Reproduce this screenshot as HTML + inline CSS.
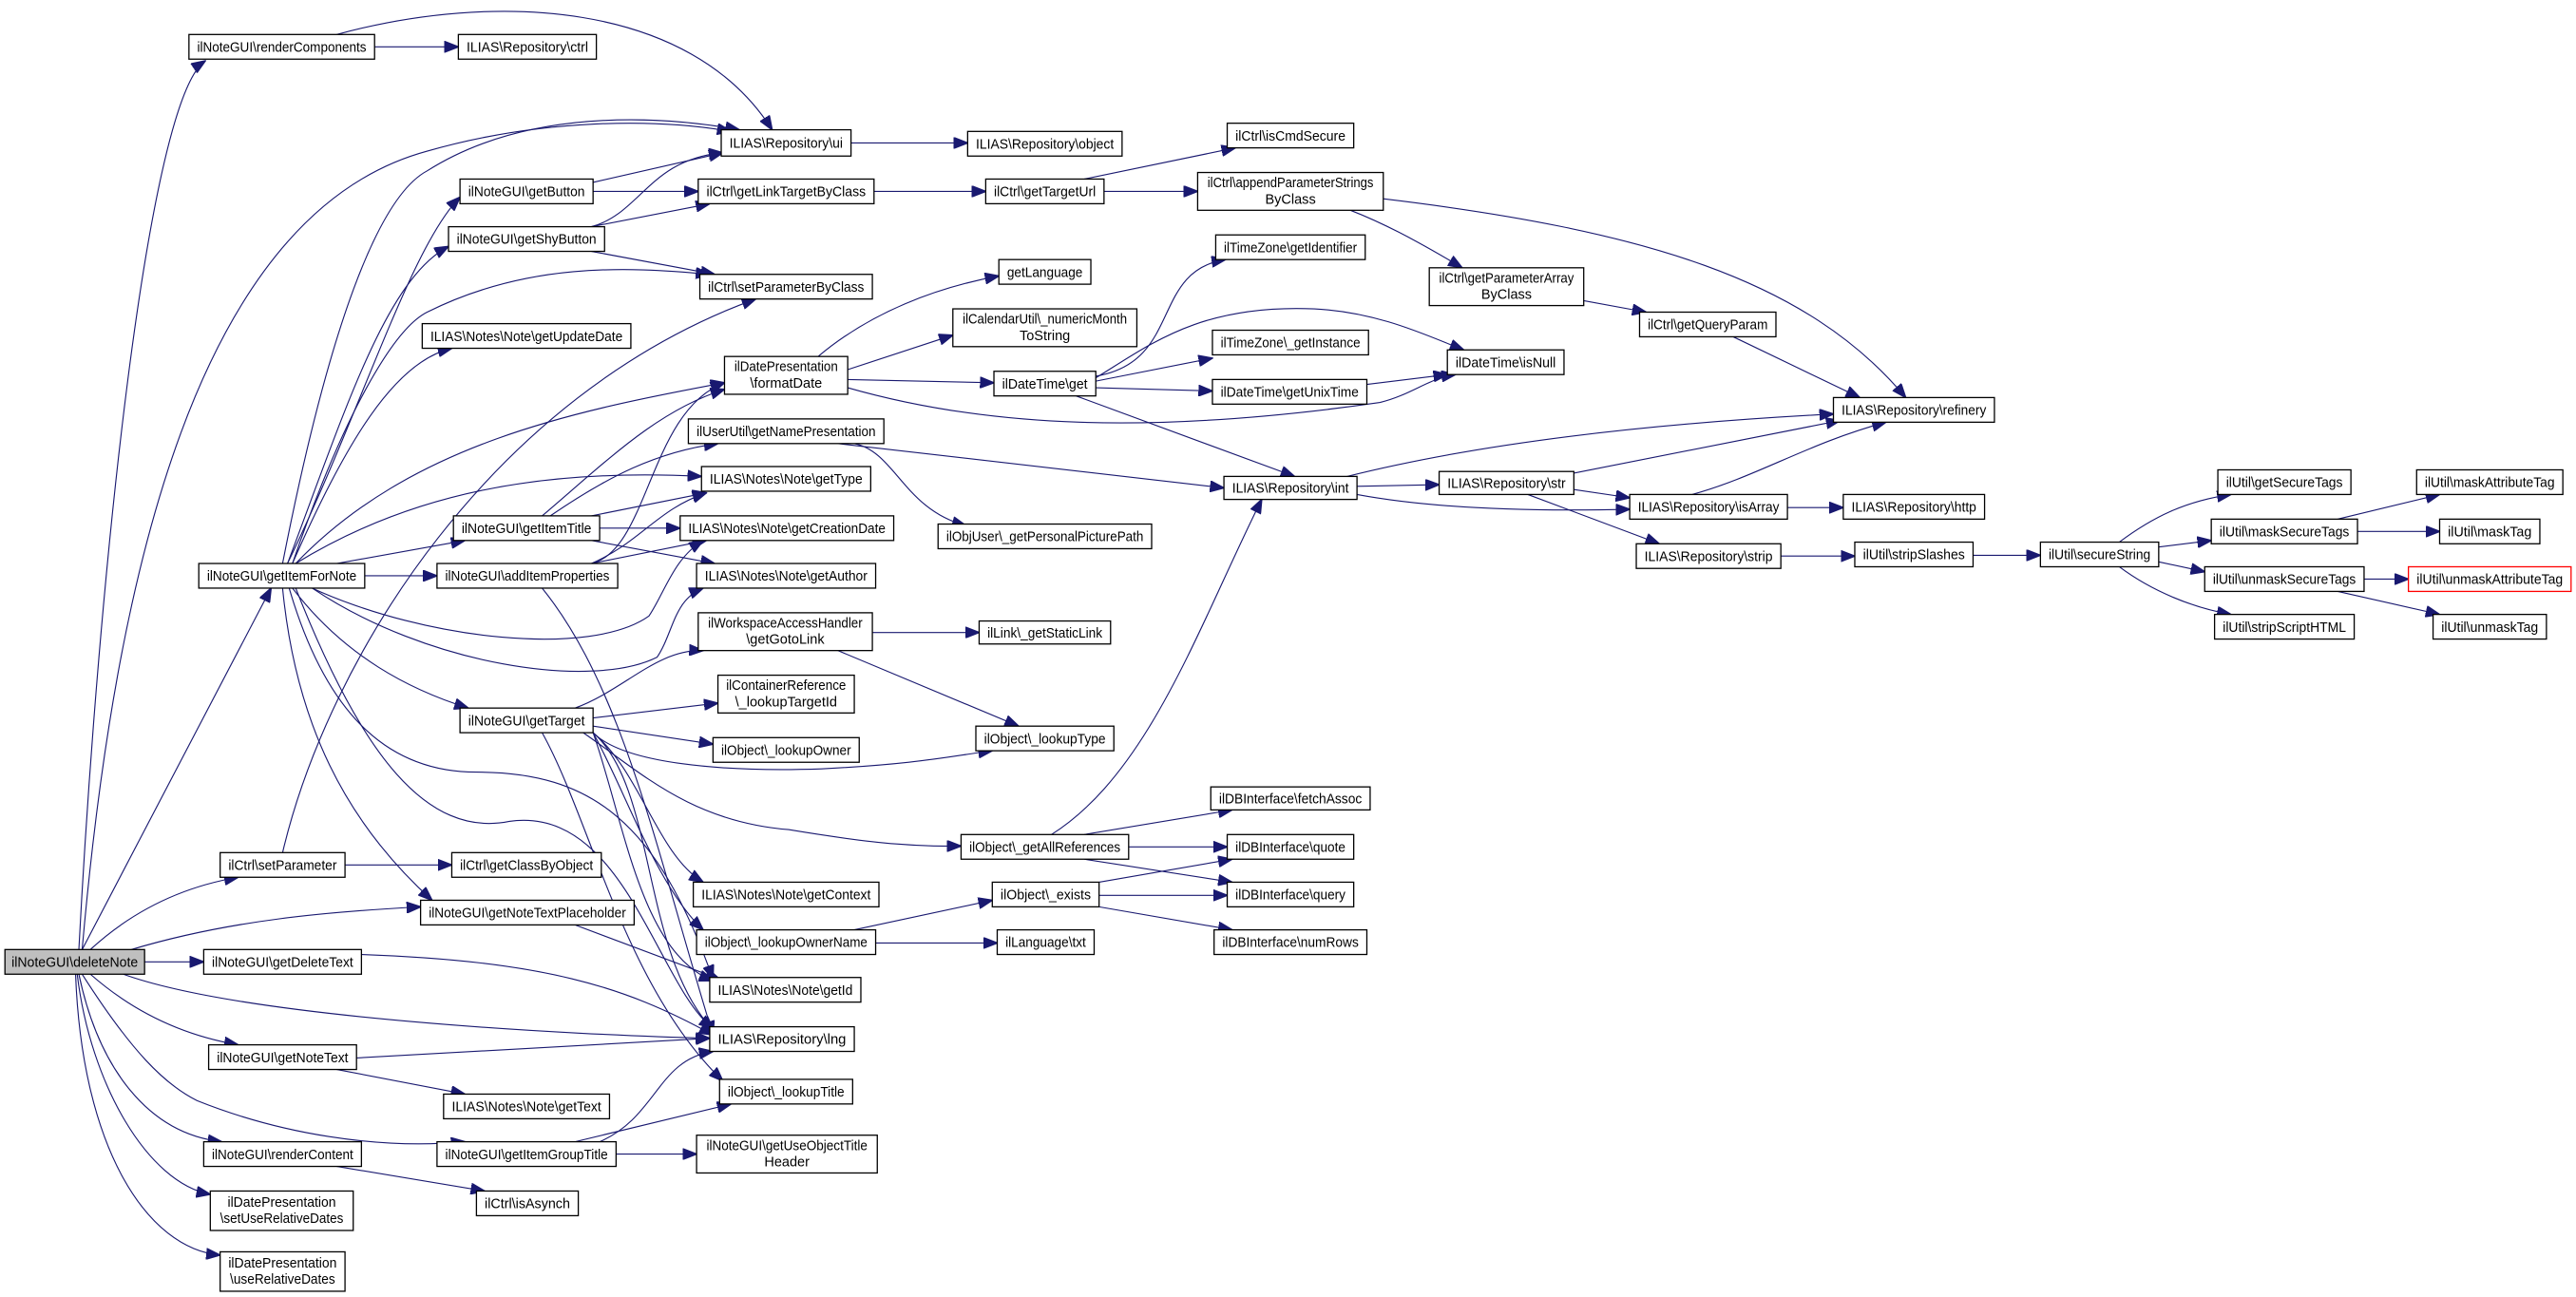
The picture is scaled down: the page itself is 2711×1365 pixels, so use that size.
<!DOCTYPE html>
<html><head><meta charset="utf-8"><style>
html,body{margin:0;padding:0;background:#fff;}
svg{display:block;}
text{font-family:"Liberation Sans",sans-serif;font-size:8.4px;fill:#000;text-anchor:middle;}
.n rect{fill:#fff;stroke:#000;stroke-width:0.75;}
.e{fill:none;stroke:#191970;stroke-width:0.65;marker-end:url(#a);}
</style></head><body>
<svg width="2711" height="1365" viewBox="0 0 1568 789.5" xmlns="http://www.w3.org/2000/svg">
<defs><marker id="a" markerWidth="9" markerHeight="7" refX="8.5" refY="3.5" orient="auto" markerUnits="userSpaceOnUse"><path d="M0,0 L9,3.5 L0,7 z" fill="#191970" stroke="#191970" stroke-width="0.5"/></marker></defs>
<g>
<path class="e" d="M48,578 C60,350 90,60 125,37"/>
<path class="e" d="M205,21 C300,-5 420,0 470,79"/>
<path class="e" d="M228,28.5 L279,28.5"/>
<path class="e" d="M50,578 C70,350 120,130 260,92 C330,72 400,72 445,80"/>
<path class="e" d="M172,343 C200,200 230,120 260,104 C320,66 400,70 450,79"/>
<path class="e" d="M175,343 C220,250 250,150 280,120"/>
<path class="e" d="M175,343 C210,250 235,170 273,150"/>
<path class="e" d="M178,343 C210,250 240,200 260,190 C320,160 380,162 432,167"/>
<path class="e" d="M178,343 C210,270 240,220 275,212"/>
<path class="e" d="M180,343 C250,270 350,250 441,233"/>
<path class="e" d="M180,343 C250,300 330,285 427,290"/>
<path class="e" d="M205,343 L283,329"/>
<path class="e" d="M222,350.5 L266,350.5"/>
<path class="e" d="M190,358 C260,390 360,400 395,375 C405,360 410,340 428,329"/>
<path class="e" d="M190,358 C260,405 360,420 400,400 C410,385 410,365 428,358"/>
<path class="e" d="M178,358 C210,400 250,420 285,431"/>
<path class="e" d="M172,358 C180,440 210,500 263,548"/>
<path class="e" d="M176,358 C200,440 240,470 290,470 C360,470 400,500 434,596"/>
<path class="e" d="M180,358 C220,460 260,510 310,500 C380,490 400,600 434,626"/>
<path class="e" d="M172,519 C200,400 300,240 460,182"/>
<path class="e" d="M210,526.5 L275,526.5"/>
<path class="e" d="M361,111 L440,93"/>
<path class="e" d="M361,116.5 L425,116.5"/>
<path class="e" d="M360,138 L432,124"/>
<path class="e" d="M360,138 C390,130 395,97 440,93"/>
<path class="e" d="M360,153 L435,167"/>
<path class="e" d="M518,87 L589,87"/>
<path class="e" d="M532,116.5 L600,116.5"/>
<path class="e" d="M660,109 L752,90"/>
<path class="e" d="M672,116.5 L729,116.5"/>
<path class="e" d="M822,128 C840,135 860,145 890,163"/>
<path class="e" d="M842,121 C1000,140 1100,170 1160,242"/>
<path class="e" d="M964,183 L1002,190"/>
<path class="e" d="M1055,205 L1132,242"/>
<path class="e" d="M498,217 C530,190 570,175 608,168"/>
<path class="e" d="M516,225 L580,204"/>
<path class="e" d="M516,231 L605,233"/>
<path class="e" d="M516,236 C600,260 700,265 840,245 C860,240 870,230 886,228"/>
<path class="e" d="M510,270 L745,297"/>
<path class="e" d="M520,270 C545,275 550,310 588,320"/>
<path class="e" d="M667,229 C720,220 700,165 746,158"/>
<path class="e" d="M667,230 C700,210 730,185 800,188 C840,190 870,205 891,213"/>
<path class="e" d="M667,232 L738,218"/>
<path class="e" d="M667,236 L738,238"/>
<path class="e" d="M655,241 L788,290"/>
<path class="e" d="M832,234 L881,228"/>
<path class="e" d="M820,290 C900,270 1000,258 1116,252"/>
<path class="e" d="M826,296 L876,295"/>
<path class="e" d="M826,301 C880,311 950,311 992,310"/>
<path class="e" d="M958,288 L1120,256"/>
<path class="e" d="M958,298 L992,303"/>
<path class="e" d="M930,301 L1010,331"/>
<path class="e" d="M1030,301 C1070,290 1100,270 1148,257"/>
<path class="e" d="M1088,309 L1122,309"/>
<path class="e" d="M1084,338.5 L1129,338.5"/>
<path class="e" d="M1201,338 L1242,338"/>
<path class="e" d="M1290,330 C1310,315 1330,305 1358,301"/>
<path class="e" d="M1314,333 L1346,329"/>
<path class="e" d="M1314,342 L1342,348"/>
<path class="e" d="M1290,345 C1310,360 1335,370 1358,374"/>
<path class="e" d="M1423,316 L1485,301"/>
<path class="e" d="M1435,323.5 L1485,323.5"/>
<path class="e" d="M1439,352.5 L1466,352.5"/>
<path class="e" d="M1423,360 L1485,374"/>
<path class="e" d="M330,314 C370,280 400,250 441,237"/>
<path class="e" d="M335,314 C370,290 400,275 437,270"/>
<path class="e" d="M360,314 L430,300"/>
<path class="e" d="M365,321.5 L414,321.5"/>
<path class="e" d="M360,329 L435,343"/>
<path class="e" d="M360,343 C395,335 395,250 441,233"/>
<path class="e" d="M360,343 C390,330 400,310 430,300"/>
<path class="e" d="M360,343 L430,329"/>
<path class="e" d="M330,358 C380,420 400,520 434,630"/>
<path class="e" d="M350,431 C380,420 400,395 428,396"/>
<path class="e" d="M361,437 L437,428"/>
<path class="e" d="M361,442 L434,453"/>
<path class="e" d="M361,446 C380,465 440,470 500,468 C560,465 580,460 604,457"/>
<path class="e" d="M355,446 C390,470 420,500 480,505 C540,515 560,515 585,515"/>
<path class="e" d="M361,446 C390,470 400,520 428,537"/>
<path class="e" d="M361,446 C380,480 400,540 428,566"/>
<path class="e" d="M361,446 C380,500 390,580 434,597"/>
<path class="e" d="M361,446 C400,480 390,580 434,627"/>
<path class="e" d="M330,446 C360,500 380,600 440,658"/>
<path class="e" d="M531,385 L596,385"/>
<path class="e" d="M510,396 L620,442"/>
<path class="e" d="M640,508 C700,470 730,380 768,304"/>
<path class="e" d="M660,508 L750,493"/>
<path class="e" d="M687,515.5 L747,515.5"/>
<path class="e" d="M660,523 L750,537"/>
<path class="e" d="M669,537 L750,523"/>
<path class="e" d="M669,545 L747,545"/>
<path class="e" d="M669,552 L750,566"/>
<path class="e" d="M520,566 L604,548"/>
<path class="e" d="M533,574 L607,574"/>
<path class="e" d="M350,563 L438,596"/>
<path class="e" d="M220,581 C330,585 380,600 434,630"/>
<path class="e" d="M75,593 C150,620 350,630 432,632"/>
<path class="e" d="M217,644 L432,632"/>
<path class="e" d="M205,651 L283,666"/>
<path class="e" d="M350,695 L445,672"/>
<path class="e" d="M365,695 C400,680 400,645 434,640"/>
<path class="e" d="M375,702.5 L424,702.5"/>
<path class="e" d="M205,710 L295,725"/>
<path class="e" d="M55,593 C80,615 110,630 145,636"/>
<path class="e" d="M50,593 C80,640 100,660 120,670 C170,690 230,700 283,695"/>
<path class="e" d="M48,593 C60,650 90,690 135,695"/>
<path class="e" d="M47,593 C55,660 90,720 128,727"/>
<path class="e" d="M46,593 C50,700 90,760 134,764"/>
<path class="e" d="M88,585.5 L124,585.5"/>
<path class="e" d="M55,578 C80,555 110,540 145,534"/>
<path class="e" d="M80,578 C140,560 200,555 256,552"/>
<path class="e" d="M50,578 L165,358"/>
</g>
<g class="n">
<rect x="3" y="578" width="85" height="15" style="fill:#bfbfbf"/><text x="45.5" y="588.5" textLength="77" lengthAdjust="spacingAndGlyphs">ilNoteGUI\deleteNote</text>
<rect x="115" y="21" width="113" height="15"/><text x="171.5" y="31.5" textLength="103" lengthAdjust="spacingAndGlyphs">ilNoteGUI\renderComponents</text>
<rect x="279" y="21" width="84" height="15"/><text x="321" y="31.5" textLength="74" lengthAdjust="spacingAndGlyphs">ILIAS\Repository\ctrl</text>
<rect x="439" y="79" width="79" height="16"/><text x="478.5" y="90" textLength="69" lengthAdjust="spacingAndGlyphs">ILIAS\Repository\ui</text>
<rect x="280" y="109" width="81" height="15"/><text x="320.5" y="119.5" textLength="71" lengthAdjust="spacingAndGlyphs">ilNoteGUI\getButton</text>
<rect x="425" y="109" width="107" height="15"/><text x="478.5" y="119.5" textLength="97" lengthAdjust="spacingAndGlyphs">ilCtrl\getLinkTargetByClass</text>
<rect x="273" y="138" width="95" height="15"/><text x="320.5" y="148.5" textLength="85" lengthAdjust="spacingAndGlyphs">ilNoteGUI\getShyButton</text>
<rect x="426" y="167" width="105" height="15"/><text x="478.5" y="177.5" textLength="95" lengthAdjust="spacingAndGlyphs">ilCtrl\setParameterByClass</text>
<rect x="257" y="197" width="127" height="15"/><text x="320.5" y="207.5" textLength="117" lengthAdjust="spacingAndGlyphs">ILIAS\Notes\Note\getUpdateDate</text>
<rect x="441" y="217" width="75" height="23"/><text x="478.5" y="226" textLength="63" lengthAdjust="spacingAndGlyphs">ilDatePresentation</text><text x="478.5" y="236">\formatDate</text>
<rect x="419" y="255" width="119" height="15"/><text x="478.5" y="265.5" textLength="109" lengthAdjust="spacingAndGlyphs">ilUserUtil\getNamePresentation</text>
<rect x="427" y="284" width="103" height="15"/><text x="478.5" y="294.5" textLength="93" lengthAdjust="spacingAndGlyphs">ILIAS\Notes\Note\getType</text>
<rect x="276" y="314" width="89" height="15"/><text x="320.5" y="324.5" textLength="79" lengthAdjust="spacingAndGlyphs">ilNoteGUI\getItemTitle</text>
<rect x="414" y="314" width="130" height="15"/><text x="479" y="324.5" textLength="120" lengthAdjust="spacingAndGlyphs">ILIAS\Notes\Note\getCreationDate</text>
<rect x="121" y="343" width="101" height="15"/><text x="171.5" y="353.5" textLength="91" lengthAdjust="spacingAndGlyphs">ilNoteGUI\getItemForNote</text>
<rect x="266" y="343" width="110" height="15"/><text x="321" y="353.5" textLength="100" lengthAdjust="spacingAndGlyphs">ilNoteGUI\addItemProperties</text>
<rect x="424" y="343" width="109" height="15"/><text x="478.5" y="353.5" textLength="99" lengthAdjust="spacingAndGlyphs">ILIAS\Notes\Note\getAuthor</text>
<rect x="425" y="373" width="106" height="23"/><text x="478" y="382" textLength="94" lengthAdjust="spacingAndGlyphs">ilWorkspaceAccessHandler</text><text x="478" y="392">\getGotoLink</text>
<rect x="437" y="411" width="83" height="23"/><text x="478.5" y="420" textLength="73" lengthAdjust="spacingAndGlyphs">ilContainerReference</text><text x="478.5" y="430">\_lookupTargetId</text>
<rect x="280" y="431" width="81" height="15"/><text x="320.5" y="441.5" textLength="71" lengthAdjust="spacingAndGlyphs">ilNoteGUI\getTarget</text>
<rect x="434" y="449" width="89" height="15"/><text x="478.5" y="459.5" textLength="79" lengthAdjust="spacingAndGlyphs">ilObject\_lookupOwner</text>
<rect x="134" y="519" width="76" height="15"/><text x="172" y="529.5" textLength="66" lengthAdjust="spacingAndGlyphs">ilCtrl\setParameter</text>
<rect x="275" y="519" width="91" height="15"/><text x="320.5" y="529.5" textLength="81" lengthAdjust="spacingAndGlyphs">ilCtrl\getClassByObject</text>
<rect x="256" y="548" width="130" height="15"/><text x="321" y="558.5" textLength="120" lengthAdjust="spacingAndGlyphs">ilNoteGUI\getNoteTextPlaceholder</text>
<rect x="422" y="537" width="113" height="15"/><text x="478.5" y="547.5" textLength="103" lengthAdjust="spacingAndGlyphs">ILIAS\Notes\Note\getContext</text>
<rect x="424" y="566" width="109" height="15"/><text x="478.5" y="576.5" textLength="99" lengthAdjust="spacingAndGlyphs">ilObject\_lookupOwnerName</text>
<rect x="124" y="578" width="96" height="15"/><text x="172" y="588.5" textLength="86" lengthAdjust="spacingAndGlyphs">ilNoteGUI\getDeleteText</text>
<rect x="432" y="595" width="92" height="15"/><text x="478" y="605.5" textLength="82" lengthAdjust="spacingAndGlyphs">ILIAS\Notes\Note\getId</text>
<rect x="432" y="625" width="88" height="15"/><text x="476" y="635.5" textLength="78" lengthAdjust="spacingAndGlyphs">ILIAS\Repository\lng</text>
<rect x="127" y="636" width="90" height="15"/><text x="172" y="646.5" textLength="80" lengthAdjust="spacingAndGlyphs">ilNoteGUI\getNoteText</text>
<rect x="270" y="666" width="101" height="15"/><text x="320.5" y="676.5" textLength="91" lengthAdjust="spacingAndGlyphs">ILIAS\Notes\Note\getText</text>
<rect x="438" y="657" width="81" height="15"/><text x="478.5" y="667.5" textLength="71" lengthAdjust="spacingAndGlyphs">ilObject\_lookupTitle</text>
<rect x="124" y="695" width="96" height="15"/><text x="172" y="705.5" textLength="86" lengthAdjust="spacingAndGlyphs">ilNoteGUI\renderContent</text>
<rect x="266" y="695" width="109" height="15"/><text x="320.5" y="705.5" textLength="99" lengthAdjust="spacingAndGlyphs">ilNoteGUI\getItemGroupTitle</text>
<rect x="424" y="691" width="110" height="23"/><text x="479" y="700" textLength="98" lengthAdjust="spacingAndGlyphs">ilNoteGUI\getUseObjectTitle</text><text x="479" y="710">Header</text>
<rect x="290" y="725" width="62" height="15"/><text x="321" y="735.5" textLength="52" lengthAdjust="spacingAndGlyphs">ilCtrl\isAsynch</text>
<rect x="128" y="725" width="87" height="24"/><text x="171.5" y="734.5" textLength="66" lengthAdjust="spacingAndGlyphs">ilDatePresentation</text><text x="171.5" y="744.5" textLength="75" lengthAdjust="spacingAndGlyphs">\setUseRelativeDates</text>
<rect x="134" y="762" width="76" height="24"/><text x="172" y="771.5" textLength="66" lengthAdjust="spacingAndGlyphs">ilDatePresentation</text><text x="172" y="781.5" textLength="64" lengthAdjust="spacingAndGlyphs">\useRelativeDates</text>
<rect x="589" y="80" width="94" height="15"/><text x="636" y="90.5" textLength="84" lengthAdjust="spacingAndGlyphs">ILIAS\Repository\object</text>
<rect x="747" y="75" width="77" height="15"/><text x="785.5" y="85.5" textLength="67" lengthAdjust="spacingAndGlyphs">ilCtrl\isCmdSecure</text>
<rect x="600" y="109" width="72" height="15"/><text x="636" y="119.5" textLength="62" lengthAdjust="spacingAndGlyphs">ilCtrl\getTargetUrl</text>
<rect x="729" y="105" width="113" height="23"/><text x="785.5" y="114" textLength="101" lengthAdjust="spacingAndGlyphs">ilCtrl\appendParameterStrings</text><text x="785.5" y="124">ByClass</text>
<rect x="740" y="143" width="91" height="15"/><text x="785.5" y="153.5" textLength="81" lengthAdjust="spacingAndGlyphs">ilTimeZone\getIdentifier</text>
<rect x="608" y="158" width="56" height="15"/><text x="636" y="168.5" textLength="46" lengthAdjust="spacingAndGlyphs">getLanguage</text>
<rect x="870" y="163" width="94" height="23"/><text x="917" y="172" textLength="82" lengthAdjust="spacingAndGlyphs">ilCtrl\getParameterArray</text><text x="917" y="182">ByClass</text>
<rect x="580" y="188" width="112" height="23"/><text x="636" y="197" textLength="100" lengthAdjust="spacingAndGlyphs">ilCalendarUtil\_numericMonth</text><text x="636" y="207">ToString</text>
<rect x="998" y="190" width="83" height="15"/><text x="1039.5" y="200.5" textLength="73" lengthAdjust="spacingAndGlyphs">ilCtrl\getQueryParam</text>
<rect x="738" y="201" width="95" height="15"/><text x="785.5" y="211.5" textLength="85" lengthAdjust="spacingAndGlyphs">ilTimeZone\_getInstance</text>
<rect x="881" y="213" width="71" height="15"/><text x="916.5" y="223.5" textLength="61" lengthAdjust="spacingAndGlyphs">ilDateTime\isNull</text>
<rect x="605" y="226" width="62" height="15"/><text x="636" y="236.5" textLength="52" lengthAdjust="spacingAndGlyphs">ilDateTime\get</text>
<rect x="738" y="231" width="94" height="15"/><text x="785" y="241.5" textLength="84" lengthAdjust="spacingAndGlyphs">ilDateTime\getUnixTime</text>
<rect x="1116" y="242" width="98" height="15"/><text x="1165" y="252.5" textLength="88" lengthAdjust="spacingAndGlyphs">ILIAS\Repository\refinery</text>
<rect x="745" y="290" width="81" height="14"/><text x="785.5" y="300" textLength="71" lengthAdjust="spacingAndGlyphs">ILIAS\Repository\int</text>
<rect x="876" y="287" width="82" height="14"/><text x="917" y="297" textLength="72" lengthAdjust="spacingAndGlyphs">ILIAS\Repository\str</text>
<rect x="992" y="301" width="96" height="15"/><text x="1040" y="311.5" textLength="86" lengthAdjust="spacingAndGlyphs">ILIAS\Repository\isArray</text>
<rect x="1122" y="301" width="86" height="15"/><text x="1165" y="311.5" textLength="76" lengthAdjust="spacingAndGlyphs">ILIAS\Repository\http</text>
<rect x="571" y="319" width="130" height="15"/><text x="636" y="329.5" textLength="120" lengthAdjust="spacingAndGlyphs">ilObjUser\_getPersonalPicturePath</text>
<rect x="996" y="331" width="88" height="15"/><text x="1040" y="341.5" textLength="78" lengthAdjust="spacingAndGlyphs">ILIAS\Repository\strip</text>
<rect x="1129" y="330" width="72" height="15"/><text x="1165" y="340.5" textLength="62" lengthAdjust="spacingAndGlyphs">ilUtil\stripSlashes</text>
<rect x="1242" y="330" width="72" height="15"/><text x="1278" y="340.5" textLength="62" lengthAdjust="spacingAndGlyphs">ilUtil\secureString</text>
<rect x="1350" y="286" width="81" height="15"/><text x="1390.5" y="296.5" textLength="71" lengthAdjust="spacingAndGlyphs">ilUtil\getSecureTags</text>
<rect x="1346" y="316" width="89" height="15"/><text x="1390.5" y="326.5" textLength="79" lengthAdjust="spacingAndGlyphs">ilUtil\maskSecureTags</text>
<rect x="1342" y="345" width="97" height="15"/><text x="1390.5" y="355.5" textLength="87" lengthAdjust="spacingAndGlyphs">ilUtil\unmaskSecureTags</text>
<rect x="1348" y="374" width="85" height="15"/><text x="1390.5" y="384.5" textLength="75" lengthAdjust="spacingAndGlyphs">ilUtil\stripScriptHTML</text>
<rect x="1471" y="286" width="89" height="15"/><text x="1515.5" y="296.5" textLength="79" lengthAdjust="spacingAndGlyphs">ilUtil\maskAttributeTag</text>
<rect x="1485" y="316" width="61" height="15"/><text x="1515.5" y="326.5" textLength="51" lengthAdjust="spacingAndGlyphs">ilUtil\maskTag</text>
<rect x="1466" y="345" width="99" height="15" style="stroke:#ff0000"/><text x="1515.5" y="355.5" textLength="89" lengthAdjust="spacingAndGlyphs">ilUtil\unmaskAttributeTag</text>
<rect x="1481" y="374" width="69" height="15"/><text x="1515.5" y="384.5" textLength="59" lengthAdjust="spacingAndGlyphs">ilUtil\unmaskTag</text>
<rect x="596" y="378" width="80" height="14"/><text x="636" y="388" textLength="70" lengthAdjust="spacingAndGlyphs">ilLink\_getStaticLink</text>
<rect x="594" y="442" width="84" height="15"/><text x="636" y="452.5" textLength="74" lengthAdjust="spacingAndGlyphs">ilObject\_lookupType</text>
<rect x="737" y="479" width="97" height="14"/><text x="785.5" y="489" textLength="87" lengthAdjust="spacingAndGlyphs">ilDBInterface\fetchAssoc</text>
<rect x="585" y="508" width="102" height="15"/><text x="636" y="518.5" textLength="92" lengthAdjust="spacingAndGlyphs">ilObject\_getAllReferences</text>
<rect x="747" y="508" width="77" height="15"/><text x="785.5" y="518.5" textLength="67" lengthAdjust="spacingAndGlyphs">ilDBInterface\quote</text>
<rect x="604" y="537" width="65" height="15"/><text x="636.5" y="547.5" textLength="55" lengthAdjust="spacingAndGlyphs">ilObject\_exists</text>
<rect x="747" y="537" width="77" height="15"/><text x="785.5" y="547.5" textLength="67" lengthAdjust="spacingAndGlyphs">ilDBInterface\query</text>
<rect x="607" y="566" width="59" height="15"/><text x="636.5" y="576.5" textLength="49" lengthAdjust="spacingAndGlyphs">ilLanguage\txt</text>
<rect x="739" y="566" width="93" height="15"/><text x="785.5" y="576.5" textLength="83" lengthAdjust="spacingAndGlyphs">ilDBInterface\numRows</text>
</g>
</svg>
</body></html>
